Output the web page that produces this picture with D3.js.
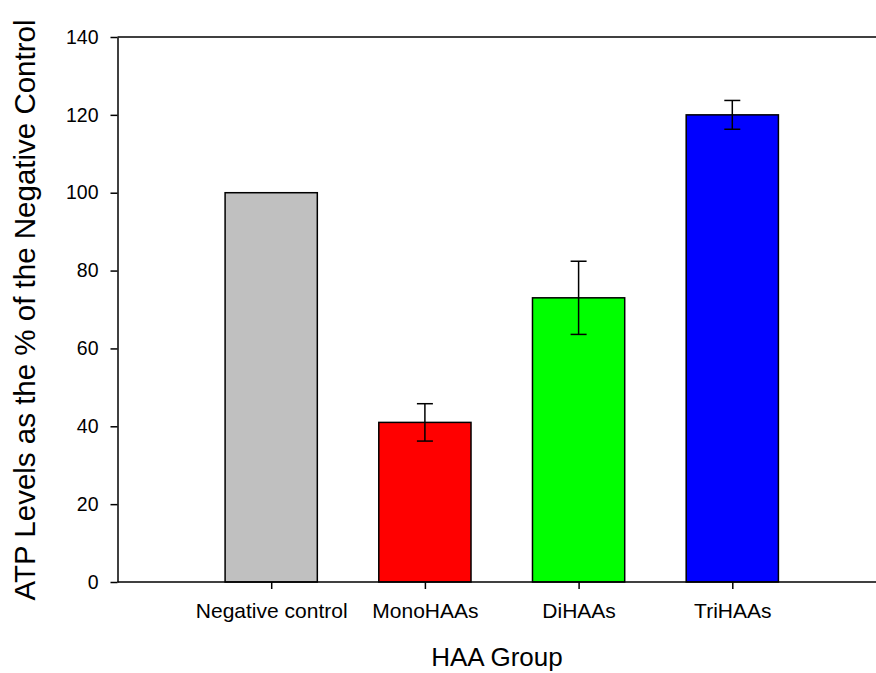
<!DOCTYPE html>
<html>
<head>
<meta charset="utf-8">
<script src="https://cdn.jsdelivr.net/npm/d3@7"></script>
<style>
  body { margin: 0; background: #fff; }
  svg { display: block; }
  text { font-family: "Liberation Sans", Arial, sans-serif; fill: #000; }
</style>
</head>
<body>
<svg id="chart" width="876" height="673"></svg>
<script>
const categories = ["Negative control", "MonoHAAs", "DiHAAs", "TriHAAs"];
const values = [100, 41, 73, 120];
const errors = [0, 4.8, 9.4, 3.7];
const colors = ["#c0c0c0", "#ff0000", "#00ff00", "#0000ff"];
const yTicks = [0, 20, 40, 60, 80, 100, 120, 140];

(function () {
const svg = d3.select("#chart");
const mLeft = 117.5, mTop = 37, mBottom = 582, mRight = 886;

const x = d3.scaleLinear().domain([0, 5]).range([mLeft, mRight]);
const y = d3.scaleLinear().domain([0, 140]).range([mBottom, mTop]);
const barW = (x(1) - x(0)) * 0.6;

// bars
svg.append("g").selectAll("rect").data(values).join("rect")
  .attr("x", (d, i) => x(i + 1) - barW / 2)
  .attr("y", d => y(d))
  .attr("width", barW)
  .attr("height", d => y(0) - y(d))
  .attr("fill", (d, i) => colors[i])
  .attr("stroke", "#000")
  .attr("stroke-width", 1.5);

// error bars
const eb = svg.append("g").attr("stroke", "#000").attr("stroke-width", 1.5);
values.forEach((v, i) => {
  if (!errors[i]) return;
  const cx = x(i + 1);
  eb.append("line").attr("x1", cx).attr("x2", cx).attr("y1", y(v + errors[i])).attr("y2", y(v - errors[i]));
  [v + errors[i], v - errors[i]].forEach(e => {
    eb.append("line").attr("x1", cx - 8).attr("x2", cx + 8).attr("y1", y(e)).attr("y2", y(e));
  });
});

// y axis
const yAxis = d3.axisLeft(y).tickValues(yTicks).tickSize(7).tickPadding(12).tickSizeOuter(0);
const gy = svg.append("g").attr("transform", `translate(${mLeft},0)`).call(yAxis);
gy.selectAll("text").style("font-size", "19.5px");
gy.selectAll("line, path").attr("stroke", "#000").attr("stroke-width", 1.5);

// x axis
const xAxis = d3.axisBottom(x).tickValues(categories.map((c, i) => i + 1))
  .tickFormat((d) => categories[d - 1]).tickSize(7).tickPadding(14).tickSizeOuter(0);
const gx = svg.append("g").attr("transform", `translate(0,${mBottom})`).call(xAxis);
gx.selectAll("text").style("font-size", "21px");
gx.selectAll("line, path").attr("stroke", "#000").attr("stroke-width", 1.5);
gx.select("path").attr("d", `M${mLeft},0H876`);

// top frame line
svg.append("line").attr("x1", mLeft).attr("x2", 876).attr("y1", mTop).attr("y2", mTop)
  .attr("stroke", "#000").attr("stroke-width", 1.5);

// titles
svg.append("text").attr("x", 497).attr("y", 666).attr("text-anchor", "middle")
  .style("font-size", "26px").text("HAA Group");
svg.append("text").attr("transform", "translate(35,310) rotate(-90)").attr("text-anchor", "middle")
  .style("font-size", "29.5px").text("ATP Levels as the % of the Negative Control");
})();
</script>
</body>
</html>
